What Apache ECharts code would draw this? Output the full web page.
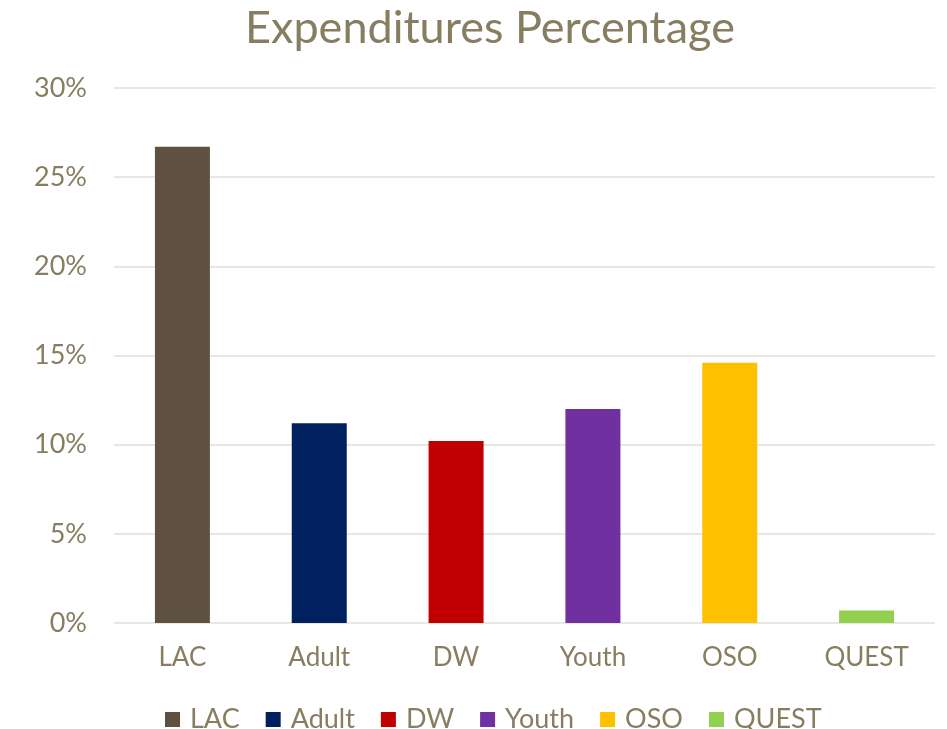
<!DOCTYPE html>
<html><head><meta charset="utf-8">
<script src="https://cdn.jsdelivr.net/npm/echarts@6/dist/echarts.min.js"></script>
<style>html,body{margin:0;padding:0;background:#fff}#c{width:947px;height:729px}</style>
</head><body><div id="c"></div>
<script>
const categories = ['LAC', 'Adult', 'DW', 'Youth', 'OSO', 'QUEST'];
const values = [26.7, 11.2, 10.2, 12.0, 14.6, 0.7];
const colors = ['#5f5140', '#002060', '#c00000', '#7030a0', '#ffc000', '#92d050'];
const yTicks = [0, 5, 10, 15, 20, 25, 30];
const textColor = '#877d60';
const font = 'Lato, "Open Sans", sans-serif';

const series = categories.map((name, i) => ({
  name: name,
  type: 'bar',
  stack: 'all',
  barWidth: 55,
  itemStyle: { color: colors[i] },
  data: categories.map((c, j) => j === i ? values[i] : null)
}));

const chart = echarts.init(document.getElementById('c'));
chart.setOption({
  animation: false,
  title: { text: 'Expenditures Percentage', left: 240, top: 1,
    textStyle: { color: textColor, fontSize: 45, fontWeight: 'normal', fontFamily: font } },
  legend: { top: 701, left: 160, itemWidth: 15, itemHeight: 15, itemGap: 26,
    icon: 'rect', data: categories,
    textStyle: { color: textColor, fontSize: 27, fontFamily: font, padding: [0, 0, 0, 5] } },
  grid: { left: 114, right: 12, top: 88, bottom: 106 },
  xAxis: { type: 'category', data: categories,
    axisLine: { show: false }, axisTick: { show: false },
    axisLabel: { color: textColor, fontSize: 26, fontFamily: font, margin: 22 } },
  yAxis: { type: 'value', min: yTicks[0], max: yTicks[yTicks.length - 1], interval: 5,
    axisLine: { show: false }, axisTick: { show: false },
    splitLine: { lineStyle: { color: '#e2dfd8', width: 1.5 } },
    axisLabel: { color: textColor, fontSize: 27, fontFamily: font, margin: 27,
      formatter: v => v + '%' } },
  series: series
});
</script></body></html>
